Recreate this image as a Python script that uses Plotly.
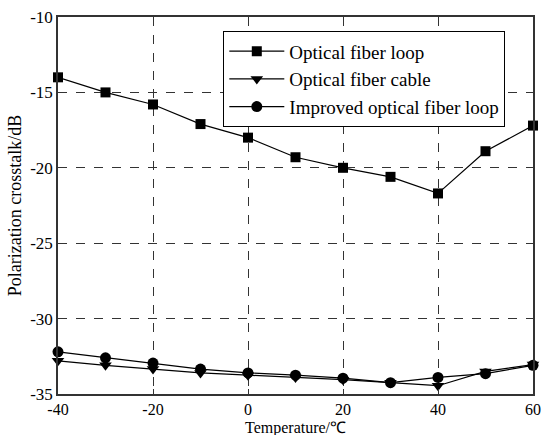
import plotly.graph_objects as go

temperature = [-40, -30, -20, -10, 0, 10, 20, 30, 40, 50, 60]
fiber_loop = [-14.0, -15.0, -15.8, -17.1, -18.0, -19.3, -20.0, -20.6, -21.7, -18.9, -17.2]
fiber_cable = [-32.8, -33.1, -33.35, -33.6, -33.75, -33.9, -34.05, -34.25, -34.45, -33.5, -33.05]
improved_loop = [-32.2, -32.6, -32.95, -33.35, -33.6, -33.75, -33.95, -34.25, -33.9, -33.65, -33.1]

x_ticks = [-40, -20, 0, 20, 40, 60]
y_ticks = [-35, -30, -25, -20, -15, -10]

fig = go.Figure()
series = [
    ("Optical fiber loop", fiber_loop, "square", 10),
    ("Optical fiber cable", fiber_cable, "triangle-down", 11),
    ("Improved optical fiber loop", improved_loop, "circle", 11),
]
for name, vals, sym, sz in series:
    fig.add_trace(go.Scatter(
        x=temperature, y=vals, name=name, mode="lines+markers",
        line=dict(color="black", width=1.2),
        marker=dict(symbol=sym, size=sz, color="black"),
        cliponaxis=False,
    ))

font_family = "Liberation Serif"
fig.update_layout(
    width=542, height=435,
    margin=dict(l=58, r=9, t=17, b=41),
    paper_bgcolor="white", plot_bgcolor="white",
    font=dict(family=font_family, size=17, color="black"),
    showlegend=True,
    legend=dict(
        x=0.348, y=0.962, xanchor="left", yanchor="top",
        bordercolor="black", borderwidth=1, bgcolor="white",
        font=dict(size=19, family=font_family),
        tracegroupgap=0, itemwidth=55,
    ),
)
fig.add_annotation(
    text="Temperature/℃", xref="paper", yref="paper", x=0.5, y=0,
    xanchor="center", yanchor="top", yshift=-23, showarrow=False,
    font=dict(size=16, family=font_family),
)
fig.update_xaxes(
    range=[-40, 60], tickvals=x_ticks, ticktext=[str(v) for v in x_ticks],
    tickfont=dict(size=16, family=font_family),
    showgrid=True, gridcolor="#333", griddash="dash", gridwidth=1,
    showline=True, linecolor="#333", linewidth=1.5, mirror=True,
    ticks="inside", ticklen=5, tickcolor="#333",
    zeroline=False, automargin=False,
)
fig.update_yaxes(
    range=[-35, -10], tickvals=y_ticks, ticktext=[str(v) for v in y_ticks],
    showgrid=True, gridcolor="#333", griddash="dash", gridwidth=1,
    showline=True, linecolor="#333", linewidth=1.5, mirror=True,
    ticks="inside", ticklen=5, tickcolor="#333",
    zeroline=False, automargin=False,
    title=dict(text="Polarization crosstalk/dB", standoff=4, font=dict(size=18, family=font_family)),
)
fig.write_html("out.html")
